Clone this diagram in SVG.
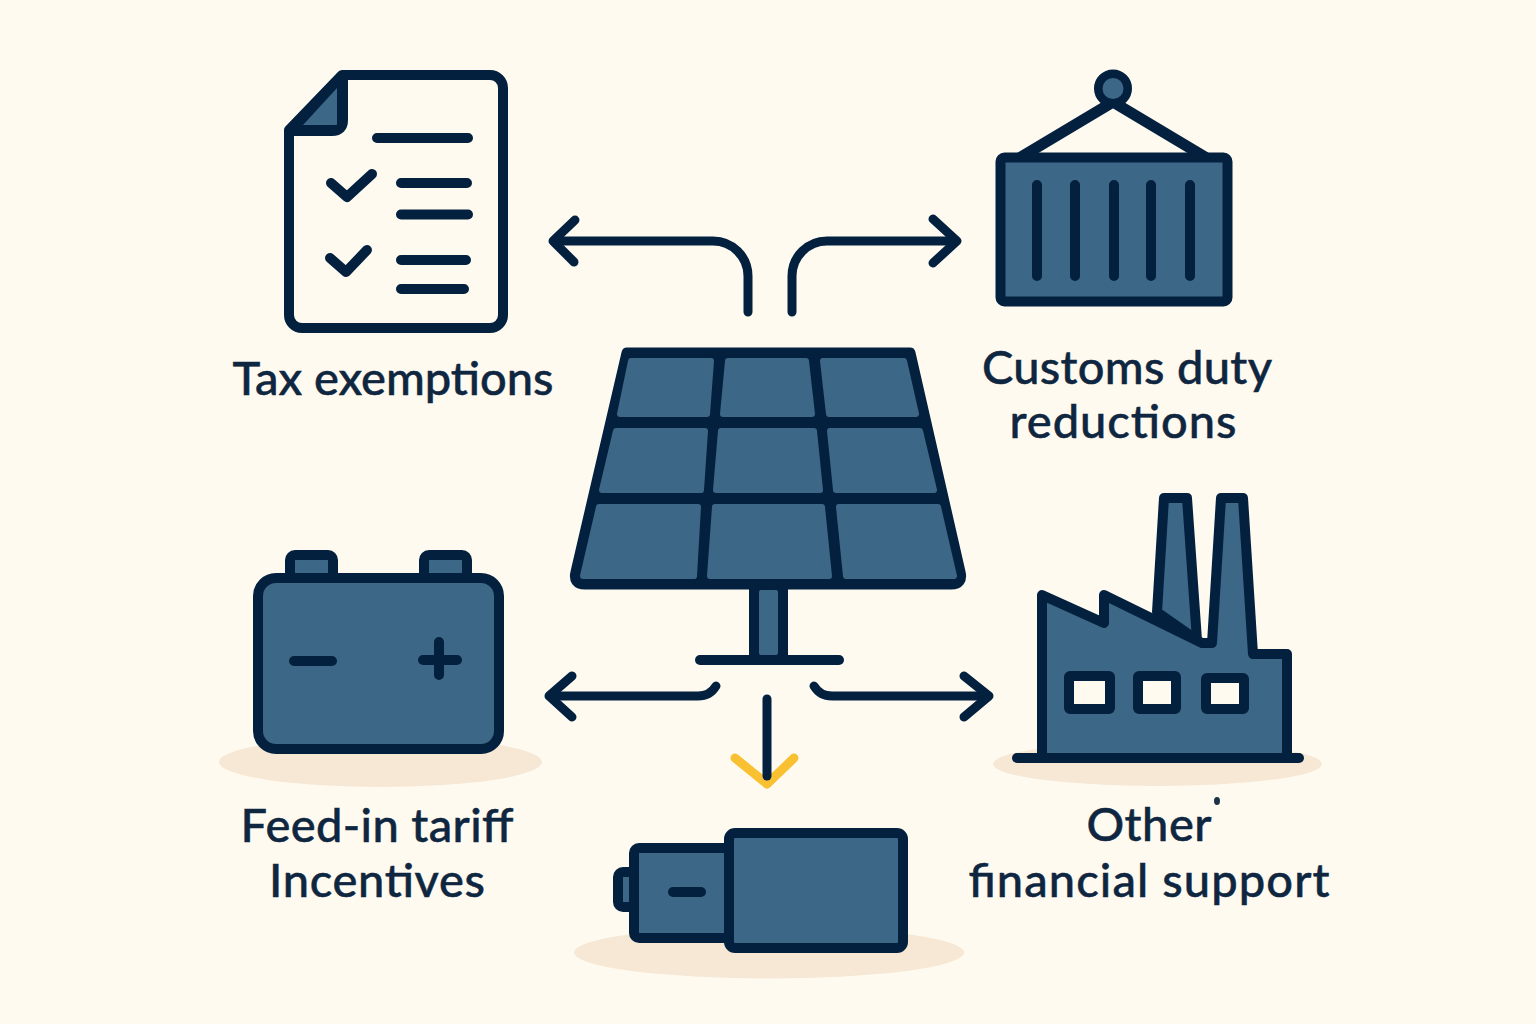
<svg xmlns="http://www.w3.org/2000/svg" width="1536" height="1024" viewBox="0 0 1536 1024">
<style>
.o{stroke:#03213f;stroke-width:10;stroke-linejoin:round;stroke-linecap:round}
.f{fill:#3c6786}
.c{fill:#fffaf0}
.l{fill:none;stroke:#03213f;stroke-width:10;stroke-linecap:round;stroke-linejoin:round}
.cell{fill:#3c6786;stroke:#3c6786;stroke-width:6;stroke-linejoin:round}
.inner{fill:#3c6786}
.a{fill:none;stroke:#03213f;stroke-width:9;stroke-linecap:round;stroke-linejoin:round}
.s{fill:#f6e8d4}
text{font-family:"Lato","Liberation Sans",sans-serif;font-size:47px;font-weight:500;fill:#0f2640;text-anchor:middle;stroke:#0f2640;stroke-width:.5}
</style>
<rect width="1536" height="1024" fill="#fffaf0"/>
<g id="connectors">
<path class="a" d="M748 312V276A35 35 0 0 0 713 241H555"/>
<path class="a" d="M575 220L553 241L574 262"/>
<path class="a" d="M792 312V276A35 35 0 0 1 827 241H954"/>
<path class="a" d="M933 219L957 241L933 263"/>
<path class="a" d="M716 686Q710 696 698 696H550"/>
<path class="a" d="M572 676L549 696L572 717"/>
<path class="a" d="M814 686Q820 696 832 696H987"/>
<path class="a" d="M964 676L989 696L964 717"/>
<path d="M735 758L767 784L794 758" fill="none" stroke="#f9c132" stroke-width="9" stroke-linecap="round" stroke-linejoin="round"/>
<path class="a" d="M767 699V776"/>
</g>
<g id="solar-panel">
<path d="M627 353H910L960 572Q963 584 951 584H585Q573 584 576 572Z" fill="#03213f" stroke="#03213f" stroke-width="11" stroke-linejoin="round"/>
<path class="cell" d="M631 361H711L707 414H620Z"/>
<path class="cell" d="M728 361H806L812 414H723Z"/>
<path class="cell" d="M823 361H904L916 414H829Z"/>
<path class="cell" d="M616 431H705L701 490H602Z"/>
<path class="cell" d="M721 431H814L820 490H716Z"/>
<path class="cell" d="M830 431H920L934 490H836Z"/>
<path class="cell" d="M599 507H698L694 576H583Z"/>
<path class="cell" d="M715 507H822L829 576H710Z"/>
<path class="cell" d="M839 507H938L954 576H846Z"/>
<rect x="749" y="586" width="39" height="72" fill="#03213f"/>
<rect x="759" y="590" width="19" height="65" rx="2" class="inner"/>
<path class="l" d="M700 660H839"/>
</g>
<g id="tax-exemptions">
<path class="o c" d="M342 75H490A13 13 0 0 1 503 88V315A13 13 0 0 1 490 328H302A13 13 0 0 1 289 315V130Z"/>
<path d="M291 130L342 76V131Z" fill="#03213f"/>
<path class="f" d="M303 125L337 88V125Z"/>
<path class="l" d="M343 76V120Q343 131 332 131H290"/>
<path class="l" d="M377 138H468M401 183H467M401 214.500H468M401 260H466M401 289H464"/>
<path class="l" d="M331 183L347 197L372 174M330 258L346 272L367 250"/>
<text x="393" y="395" textLength="321" lengthAdjust="spacing">Tax exemptions</text>
</g>
<g id="customs-duty">
<path class="l" style="stroke-width:11" d="M1021 157L1113 102L1205 157"/>
<circle cx="1113" cy="88.500" r="14.750" class="o f" style="stroke-width:8.500"/>
<rect x="1000.500" y="157.500" width="227" height="144" rx="4" class="o f"/>
<path class="l" d="M1037 185V276M1075 185V276M1114 185V276M1151 185V276M1190 185V276"/>
<text x="1127" y="384" textLength="290" lengthAdjust="spacing">Customs duty</text>
<text x="1123" y="438" textLength="227" lengthAdjust="spacing">reductions</text>
</g>
<g id="feed-in-tariff">
<ellipse class="s" cx="380.500" cy="762" rx="161.500" ry="25"/>
<rect x="290" y="555" width="43" height="30" rx="5" class="o f"/>
<rect x="424" y="555" width="43" height="30" rx="5" class="o f"/>
<rect x="258" y="578" width="241" height="171" rx="18" class="o f"/>
<path class="l" d="M294 661H332M423 660H457M439 642V675"/>
<text x="377" y="842" textLength="273" lengthAdjust="spacing">Feed-in tariff</text>
<text x="377" y="897" textLength="216" lengthAdjust="spacing">Incentives</text>
</g>
<g id="other-financial">
<ellipse class="s" cx="1157.500" cy="764" rx="164.500" ry="22"/>
<path class="o f" d="M1157 612L1164 498H1187L1197 640Z"/>
<path class="o f" d="M1042 758V595L1104 623V595L1202 643H1212L1221 498H1243L1253 654H1287V758Z"/>
<path class="l" d="M1017 758H1299"/>
<rect x="1069" y="676" width="41" height="33" rx="1" class="o c"/>
<rect x="1138" y="676" width="38" height="33" rx="1" class="o c"/>
<rect x="1206" y="678" width="38" height="31" rx="1" class="o c"/>
<ellipse cx="1217" cy="801" rx="3" ry="4" fill="#1d3248"/>
<text x="1149" y="841" textLength="125" lengthAdjust="spacing">Other</text>
<text x="1149" y="897" textLength="361" lengthAdjust="spacing">financial support</text>
</g>
<g id="bottom-battery">
<ellipse class="s" cx="769" cy="952.500" rx="195" ry="26"/>
<rect x="618" y="872" width="20" height="35" rx="5" class="o f"/>
<rect x="634" y="848" width="95" height="90" rx="5" class="o f"/>
<rect x="729" y="833" width="174" height="115" rx="6" class="o f"/>
<path class="l" d="M673 892H701"/>
</g>
</svg>
